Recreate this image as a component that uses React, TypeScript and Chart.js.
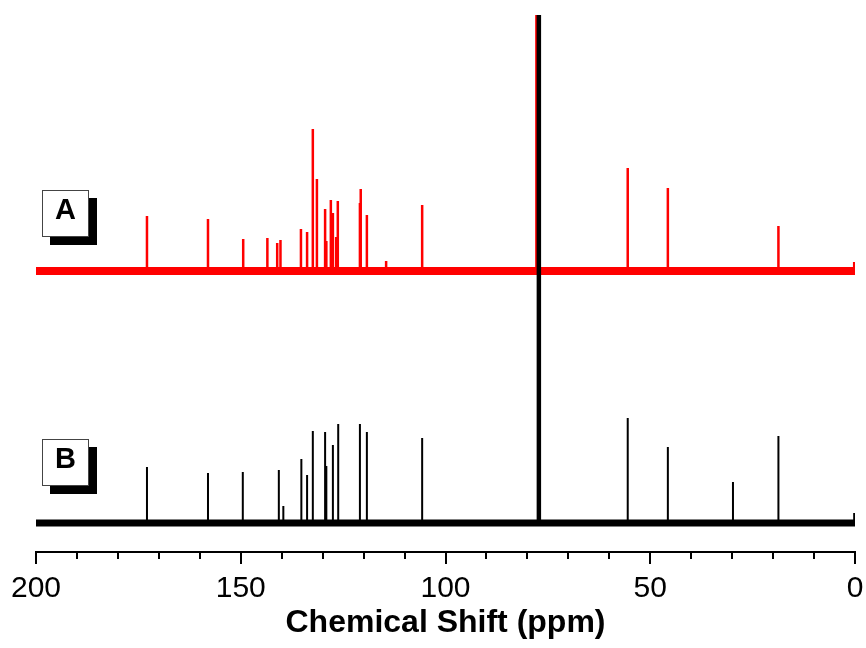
import React, { useEffect, useRef } from 'react';
import { Chart, registerables } from 'chart.js';

Chart.register(...registerables);

// x axis (ppm), reversed
const xMin = 0;
const xMax = 200;
const majorStep = 50;
const minorStep = 10;

// Trace A (red), peak positions (ppm) and heights (a.u.)
const peakShiftsA = [172.9, 158.0, 149.4, 143.5, 141.1, 140.3, 135.3, 133.8, 132.4, 131.4, 129.4, 129.1, 128.0, 127.5, 126.7, 126.3, 120.9, 120.7, 119.2, 114.5, 105.7, 77.8, 77.5, 77.2, 55.5, 45.7, 18.7, 0.2];
const peakHeightsA = [55, 52, 32, 33, 28, 31, 42, 39, 142, 92, 62, 30, 71, 58, 34, 70, 68, 82, 56, 10, 66, 600, 600, 600, 103, 83, 45, 9];

// Trace B (black)
const peakShiftsB = [172.9, 158.0, 149.5, 140.7, 139.6, 135.2, 133.8, 132.4, 129.4, 129.1, 127.5, 126.2, 120.9, 119.2, 105.7, 77.5, 77.2, 76.9, 55.5, 45.7, 29.8, 18.7, 0.2];
const peakHeightsB = [56, 50, 51, 53, 17, 64, 48, 92, 91, 57, 78, 99, 99, 91, 85, 600, 600, 600, 105, 76, 41, 87, 10];

// vertical offsets of the stacked traces
const offsetA = 252;
const offsetB = 0;
const yMin = -29;
const yMax = 508;

const traceLabels = ['A', 'B'];

const FONT = '"Liberation Sans", Arial, Helvetica, sans-serif';

function buildSpectrum(shifts: number[], heights: number[], base: number) {
  const pts: { x: number; y: number }[] = [{ x: xMax, y: base }];
  const idx = shifts.map((_, i) => i).sort((a, b) => shifts[b] - shifts[a]);
  for (const i of idx) {
    pts.push({ x: shifts[i], y: base });
    pts.push({ x: shifts[i], y: base + heights[i] });
    pts.push({ x: shifts[i], y: base });
  }
  pts.push({ x: xMin, y: base });
  return pts;
}

function baseline(base: number) {
  return [
    { x: xMax, y: base },
    { x: xMin, y: base },
  ];
}

const tickMarksPlugin = {
  id: 'tickMarks',
  afterDraw(chart: any) {
    const sx = chart.scales.x;
    const ctx = chart.ctx;
    const top = chart.chartArea.bottom;
    ctx.save();
    ctx.strokeStyle = '#000';
    ctx.lineWidth = 2;
    for (let v = xMin; v <= xMax; v += minorStep) {
      const len = v % majorStep === 0 ? 12 : 7;
      const px = Math.round(sx.getPixelForValue(v));
      ctx.beginPath();
      ctx.moveTo(px, top);
      ctx.lineTo(px, top + len);
      ctx.stroke();
    }
    ctx.restore();
  },
};

const boxLabelsPlugin = {
  id: 'boxLabels',
  afterDatasetsDraw(chart: any) {
    const ctx = chart.ctx;
    const sy = chart.scales.y;
    const left = chart.chartArea.left + 6;
    const bases = [offsetA, offsetB];
    const lift = [81, 84];
    traceLabels.forEach((lab, i) => {
      const top = sy.getPixelForValue(bases[i]) - lift[i];
      const w = 47;
      const h = 47;
      ctx.save();
      ctx.fillStyle = '#000';
      ctx.fillRect(left + 8, top + 8, w, h);
      ctx.fillStyle = '#fff';
      ctx.fillRect(left, top, w, h);
      ctx.strokeStyle = '#444';
      ctx.lineWidth = 1;
      ctx.strokeRect(left + 0.5, top + 0.5, w - 1, h - 1);
      ctx.fillStyle = '#000';
      ctx.font = `bold 29px ${FONT}`;
      ctx.textAlign = 'center';
      ctx.textBaseline = 'alphabetic';
      ctx.fillText(lab, left + w / 2, top + 29);
      ctx.restore();
    });
  },
};

export default function App() {
  const ref = useRef<HTMLCanvasElement | null>(null);

  useEffect(() => {
    if (!ref.current) return;
    const chart = new Chart(ref.current, {
      type: 'line',
      data: {
        datasets: [
          {
            label: 'B',
            data: buildSpectrum(peakShiftsB, peakHeightsB, offsetB),
            borderColor: '#000',
            borderWidth: 2,
            pointRadius: 0,
            borderJoinStyle: 'bevel',
            order: 0,
          },
          {
            label: 'B baseline',
            data: baseline(offsetB),
            borderColor: '#000',
            borderWidth: 7,
            pointRadius: 0,
            order: 1,
          },
          {
            label: 'A',
            data: buildSpectrum(peakShiftsA, peakHeightsA, offsetA),
            borderColor: '#ff0000',
            borderWidth: 2.5,
            pointRadius: 0,
            borderJoinStyle: 'bevel',
            order: 2,
          },
          {
            label: 'A baseline',
            data: baseline(offsetA),
            borderColor: '#ff0000',
            borderWidth: 8,
            pointRadius: 0,
            order: 3,
          },
        ],
      },
      options: {
        responsive: false,
        animation: false,
        parsing: false as any,
        layout: { padding: { left: 36, right: 11, top: 15, bottom: 0 } },
        plugins: {
          legend: { display: false },
          tooltip: { enabled: false },
        },
        scales: {
          x: {
            type: 'linear',
            reverse: true,
            min: xMin,
            max: xMax,
            afterFit: (scale: any) => {
              scale.height = 96;
            },
            ticks: {
              stepSize: minorStep,
              autoSkip: false,
              maxRotation: 0,
              padding: 2,
              color: '#000',
              font: { family: FONT, size: 30 },
              callback: (v: any) => (Number(v) % majorStep === 0 ? String(v) : ''),
            },
            grid: {
              drawOnChartArea: false,
              drawTicks: true,
              tickLength: 17,
              tickWidth: 2,
              tickColor: 'rgba(0,0,0,0)',
            },
            border: { display: true, color: '#000', width: 2 },
            title: {
              display: true,
              text: 'Chemical Shift (ppm)',
              color: '#000',
              font: { family: FONT, size: 32, weight: 'bold' },
              padding: { top: 0, bottom: 6 },
            },
          },
          y: {
            type: 'linear',
            display: false,
            min: yMin,
            max: yMax,
          },
        },
      },
      plugins: [tickMarksPlugin, boxLabelsPlugin],
    } as any);
    return () => chart.destroy();
  }, []);

  return (
    <div style={{ position: 'fixed', left: 0, top: 0, width: 866, height: 648, background: '#fff' }}>
      <canvas ref={ref} width={866} height={648} />
    </div>
  );
}
